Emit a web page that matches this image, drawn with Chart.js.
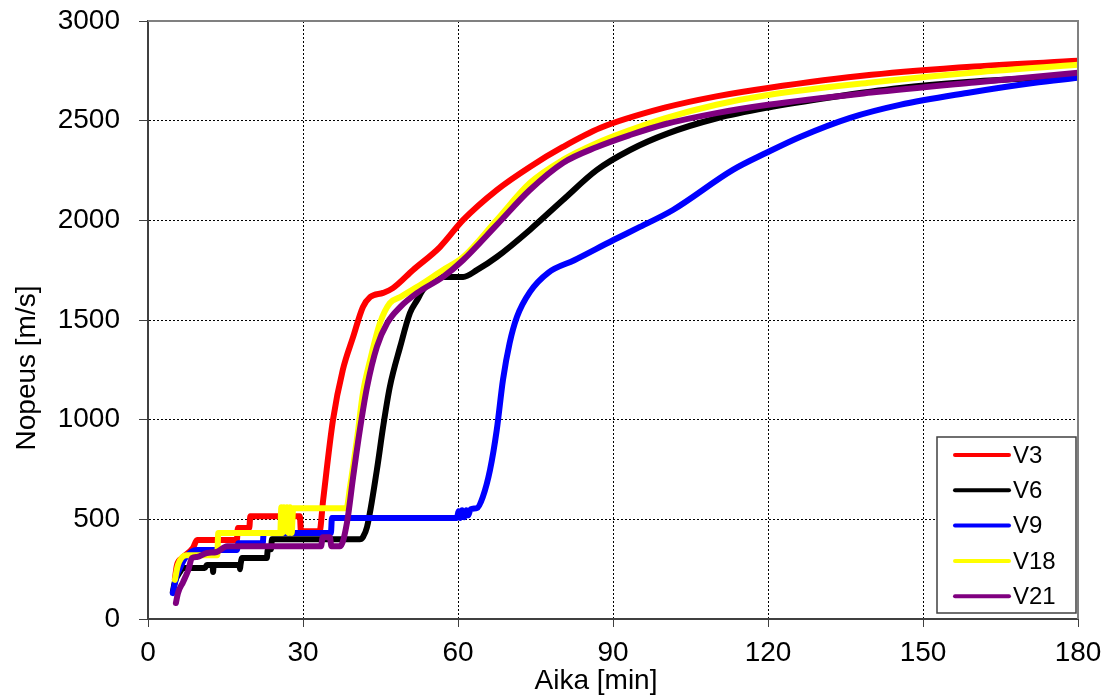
<!DOCTYPE html>
<html>
<head>
<meta charset="utf-8">
<script src="https://cdn.jsdelivr.net/npm/chart.js@4.4.1/dist/chart.umd.min.js"></script>
<style>
    html, body { margin: 0; padding: 0; background: #fff; }
    #wrap { width: 1113px; height: 699px; }
</style>
</head>
<body>
<div id="wrap"><canvas id="speedChart" width="1113" height="699"></canvas></div>
<script>
// Series names and colours
const seriesNames = ['V3', 'V6', 'V9', 'V18', 'V21'];
const seriesColors = ['#FF0000', '#000000', '#0000FF', '#FFFF00', '#800080'];

// Axis ticks
const xTicks = [0, 30, 60, 90, 120, 150, 180];
const yTicks = [0, 500, 1000, 1500, 2000, 2500, 3000];

// V3 (time in min, speed in m/s)
const v3Time = [5.2, 5.6, 6.6, 8.7, 9.5, 17.2, 17.4, 19.6, 19.8, 29.4, 29.6, 33.2, 33.9, 35.8, 37.7, 39.7, 41.6, 43.0, 45.5, 47.4, 51.3, 56.5, 61.0, 67.5, 73.9, 80.3, 87.5, 100.0, 110.0, 120.0, 140.0, 160.0, 180];
const v3Speed = [200, 270, 306, 356, 396, 396, 457, 457, 515, 515, 440, 440, 597, 998, 1249, 1415, 1565, 1615, 1636, 1660, 1751, 1866, 2002, 2152, 2268, 2368, 2463, 2565, 2622, 2664, 2730, 2772, 2800];

// V6
const v6Time = [4.8, 5.2, 6.2, 6.8, 11.0, 11.4, 12.5, 12.6, 12.7, 17.7, 17.8, 17.9, 18.2, 23.0, 23.2, 23.8, 24.0, 41.0, 41.6, 42.4, 44.3, 45.5, 46.8, 48.8, 50.7, 52.1, 53.2, 54.6, 56.5, 61.0, 63.7, 67.5, 73.9, 80.3, 86.9, 93.3, 100.5, 110.1, 119.8, 132.6, 145.5, 158.5, 171.3, 180];
const v6Speed = [135, 186, 236, 256, 256, 271, 271, 236, 271, 271, 250, 271, 306, 306, 350, 350, 400, 400, 411, 462, 748, 963, 1164, 1365, 1535, 1600, 1651, 1686, 1716, 1716, 1751, 1816, 1952, 2102, 2253, 2353, 2435, 2512, 2565, 2619, 2664, 2694, 2714, 2729];

// V9
const v9Time = [4.8, 5.6, 6.2, 7.2, 9.5, 17.2, 17.5, 22.2, 22.4, 35.4, 35.6, 59.8, 60.1, 60.4, 60.8, 61.2, 61.6, 62.0, 62.4, 63.7, 64.8, 66.2, 67.5, 68.7, 70.0, 71.4, 73.9, 77.5, 82.5, 90.0, 95.2, 101.6, 113.2, 119.8, 126.2, 135.9, 145.5, 158.5, 171.3, 180];
const v9Speed = [130, 221, 256, 306, 346, 346, 380, 380, 431, 431, 507, 507, 540, 507, 545, 510, 545, 520, 550, 557, 612, 748, 948, 1199, 1385, 1515, 1640, 1738, 1800, 1900, 1967, 2052, 2253, 2340, 2418, 2514, 2579, 2639, 2689, 2715];

// V18
const v18Time = [5.2, 5.8, 7.4, 13.4, 13.6, 25.6, 25.8, 26.0, 26.3, 26.6, 26.9, 27.2, 27.5, 27.8, 28.1, 38.4, 39.1, 40.5, 41.6, 43.0, 44.9, 46.8, 48.8, 52.1, 57.1, 61.0, 67.5, 73.9, 80.3, 86.9, 93.3, 100.0, 110.0, 120.0, 140.0, 160.0, 180];
const v18Speed = [196, 271, 320, 320, 431, 431, 560, 431, 560, 440, 560, 431, 560, 431, 555, 555, 662, 913, 1134, 1299, 1485, 1585, 1615, 1666, 1751, 1816, 2002, 2187, 2303, 2388, 2453, 2512, 2580, 2629, 2692, 2742, 2780];

// V21
const v21Time = [5.4, 5.8, 6.8, 7.8, 8.5, 9.5, 11.4, 13.3, 15.3, 33.5, 33.8, 35.2, 35.5, 37.2, 38.5, 39.7, 41.0, 42.4, 44.3, 46.3, 48.8, 52.1, 57.1, 61.0, 67.5, 73.9, 80.3, 86.9, 93.3, 100.0, 110.0, 120.0, 140.0, 160.0, 180];
const v21Speed = [80, 130, 186, 246, 306, 311, 331, 336, 365, 365, 410, 410, 365, 365, 482, 712, 948, 1164, 1365, 1485, 1565, 1636, 1716, 1801, 1977, 2152, 2288, 2368, 2428, 2482, 2538, 2580, 2641, 2692, 2740];

const seriesTimes = [v3Time, v6Time, v9Time, v18Time, v21Time];
const seriesSpeeds = [v3Speed, v6Speed, v9Speed, v18Speed, v21Speed];

const FONT = '"Liberation Sans", Arial, sans-serif';

// Pair up time and speed arrays
function toPoints(times, speeds) {
    return times.map((t, i) => ({ x: t, y: speeds[i] }));
}

const datasets = seriesNames.map((name, i) => ({
    label: name,
    data: toPoints(seriesTimes[i], seriesSpeeds[i]),
    borderColor: seriesColors[i],
    backgroundColor: seriesColors[i],
    borderWidth: 6,
    pointRadius: 0,
    cubicInterpolationMode: 'monotone',
    fill: false,
    borderJoinStyle: 'round',
    borderCapStyle: 'round',
    // later series are drawn on top
    order: seriesNames.length - i
}));

// Frame: top and right edges of the plot
const framePlugin = {
    id: 'frame',
    afterDraw(chart) {
        const { ctx, chartArea: a } = chart;
        ctx.save();
        ctx.strokeStyle = '#808080';
        ctx.lineWidth = 2;
        ctx.beginPath();
        ctx.moveTo(a.left, a.top);
        ctx.lineTo(a.right, a.top);
        ctx.lineTo(a.right, a.bottom);
        ctx.stroke();
        ctx.restore();
    }
};

// Axis titles (placed like the original, slightly off-centre)
const titlePlugin = {
    id: 'axisTitles',
    afterDraw(chart) {
        const { ctx } = chart;
        ctx.save();
        ctx.fillStyle = '#000';
        ctx.font = '28px ' + FONT;
        ctx.textAlign = 'center';
        ctx.textBaseline = 'middle';
        ctx.fillText('Aika [min]', 596, 681);
        ctx.translate(27, 368);
        ctx.rotate(-Math.PI / 2);
        ctx.fillText('Nopeus [m/s]', 0, 0);
        ctx.restore();
    }
};

// Legend box inside the plot, bottom right
const legendPlugin = {
    id: 'boxLegend',
    afterDraw(chart) {
        const { ctx, chartArea: a } = chart;
        const boxW = 139, boxH = 176;
        const x0 = a.right - boxW - 2, y0 = a.bottom - boxH - 6;
        ctx.save();
        ctx.fillStyle = '#fff';
        ctx.fillRect(x0, y0, boxW, boxH);
        ctx.strokeStyle = '#404040';
        ctx.lineWidth = 1.5;
        ctx.strokeRect(x0, y0, boxW, boxH);
        ctx.font = '24px ' + FONT;
        ctx.textBaseline = 'middle';
        ctx.lineCap = 'round';
        chart.data.datasets.forEach((ds, i) => {
            const y = y0 + 18 + i * 35.3;
            ctx.strokeStyle = ds.borderColor;
            ctx.lineWidth = 4;
            ctx.beginPath();
            ctx.moveTo(x0 + 18, y);
            ctx.lineTo(x0 + 72, y);
            ctx.stroke();
            ctx.fillStyle = '#000';
            ctx.fillText(ds.label, x0 + 76, y + 1);
        });
        ctx.restore();
    }
};

const ctx = document.getElementById('speedChart').getContext('2d');
const speedChart = new Chart(ctx, {
    type: 'line',
    data: { datasets: datasets },
    options: {
        responsive: false,
        animation: false,
        devicePixelRatio: 1,
        layout: { padding: { top: 21, right: 35, left: 0, bottom: 0 } },
        plugins: {
            legend: { display: false },
            tooltip: { enabled: false }
        },
        scales: {
            x: {
                type: 'linear',
                min: xTicks[0],
                max: xTicks[xTicks.length - 1],
                afterBuildTicks: scale => { scale.ticks = xTicks.map(v => ({ value: v })); },
                afterFit: scale => {
                    scale.height = 80;
                    scale.paddingLeft = 0;
                    scale.paddingRight = 0;
                },
                ticks: {
                    color: '#000',
                    font: { family: FONT, size: 28 },
                    padding: 9,
                    maxRotation: 0,
                    callback: v => String(v)
                },
                grid: {
                    color: '#000',
                    lineWidth: 1,
                    tickLength: 8,
                    tickColor: '#404040',
                    tickBorderDash: []
                },
                border: { display: true, color: '#404040', width: 2, dash: [2, 2] }
            },
            y: {
                type: 'linear',
                min: yTicks[0],
                max: yTicks[yTicks.length - 1],
                afterBuildTicks: scale => { scale.ticks = yTicks.map(v => ({ value: v })); },
                afterFit: scale => {
                    scale.width = 148;
                    scale.paddingTop = 0;
                    scale.paddingBottom = 0;
                },
                ticks: {
                    color: '#000',
                    font: { family: FONT, size: 28 },
                    padding: 19,
                    callback: v => String(v)
                },
                grid: {
                    color: '#000',
                    lineWidth: 1,
                    tickLength: 9,
                    tickColor: '#404040',
                    tickBorderDash: []
                },
                border: { display: true, color: '#404040', width: 2, dash: [2, 2] }
            }
        }
    },
    plugins: [framePlugin, titlePlugin, legendPlugin]
});
</script>
</body>
</html>
